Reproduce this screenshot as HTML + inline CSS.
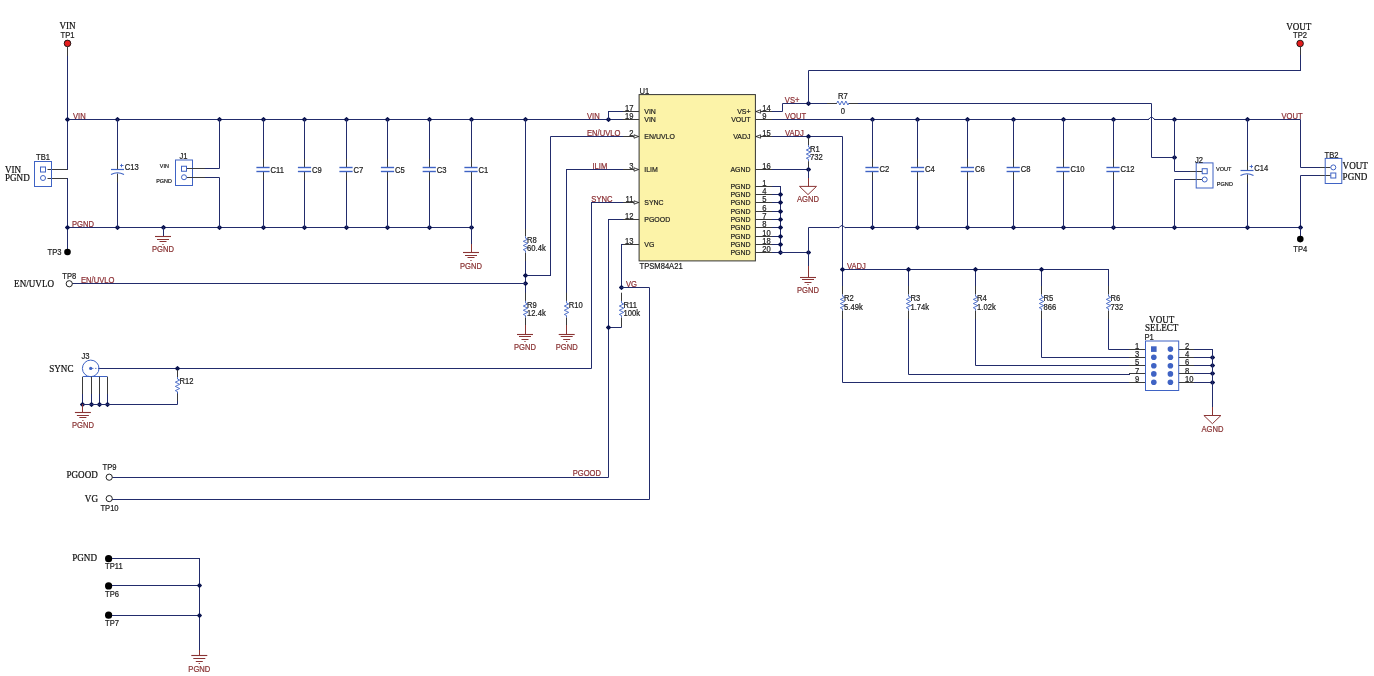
<!DOCTYPE html>
<html><head><meta charset="utf-8"><style>
html,body{margin:0;padding:0;background:#fff;}
body{width:1374px;height:676px;overflow:hidden;}
svg{display:block;will-change:transform;}

</style></head><body>
<svg width="1374" height="676" viewBox="0 0 1374 676">
<rect width="1374" height="676" fill="#fff"/>
<circle cx="67.5" cy="43.4" r="3.3" fill="#e41c1c" stroke="#111" stroke-width="0.9"/>
<text transform="matrix(0.9 0 0 1 67.5 28.84)" font-size="10.12" fill="#111" stroke="#111" stroke-width="0.22" text-anchor="middle" style="font-family:'Liberation Serif',serif">VIN</text>
<text transform="matrix(0.9 0 0 1 67.5 37.97)" font-size="8.47" fill="#1e1e1e" stroke="#1e1e1e" stroke-width="0.22" text-anchor="middle" style="font-family:'Liberation Sans',sans-serif">TP1</text>
<line x1="67.5" y1="46.5" x2="67.5" y2="56" stroke="#3a3a3a" stroke-width="1"/>
<path d="M67.5 56.5 L67.5 169.5" stroke="#222c6c" stroke-width="1" fill="none" stroke-linecap="square"/>
<line x1="47.5" y1="169.5" x2="67.5" y2="169.5" stroke="#3a3a3a" stroke-width="1"/>
<line x1="47.5" y1="178.5" x2="67.5" y2="178.5" stroke="#3a3a3a" stroke-width="1"/>
<path d="M67.5 178.5 L67.5 252.5" stroke="#222c6c" stroke-width="1" fill="none" stroke-linecap="square"/>
<circle cx="67.5" cy="252" r="3.3" fill="#000"/>
<text transform="matrix(0.9 0 0 1 61.5 254.97)" font-size="8.47" fill="#1e1e1e" stroke="#1e1e1e" stroke-width="0.22" text-anchor="end" style="font-family:'Liberation Sans',sans-serif">TP3</text>
<rect x="34.5" y="161.5" width="17" height="25" fill="none" stroke="#3f63c4" stroke-width="1"/>
<rect x="40.5" y="167" width="5" height="5" fill="none" stroke="#3f63c4" stroke-width="1"/>
<circle cx="43" cy="178" r="2.5" fill="none" stroke="#3f63c4" stroke-width="1"/>
<text transform="matrix(0.9 0 0 1 43 159.97)" font-size="8.47" fill="#1e1e1e" stroke="#1e1e1e" stroke-width="0.22" text-anchor="middle" style="font-family:'Liberation Sans',sans-serif">TB1</text>
<text transform="matrix(0.9 0 0 1 5 172.84)" font-size="10.12" fill="#111" stroke="#111" stroke-width="0.22" text-anchor="start" style="font-family:'Liberation Serif',serif">VIN</text>
<text transform="matrix(0.9 0 0 1 5 181.34)" font-size="10.12" fill="#111" stroke="#111" stroke-width="0.22" text-anchor="start" style="font-family:'Liberation Serif',serif">PGND</text>
<path d="M67.5 119.5 L622.5 119.5" stroke="#222c6c" stroke-width="1" fill="none" stroke-linecap="square"/>
<text transform="matrix(0.9 0 0 1 73 118.97)" font-size="8.47" fill="#8c2f34" stroke="#8c2f34" stroke-width="0.22" text-anchor="start" style="font-family:'Liberation Sans',sans-serif">VIN</text>
<path d="M65.6 119.5 L67.5 117.6 L69.4 119.5 L67.5 121.4 Z" fill="#0b1450" stroke="#0b1450" stroke-width="1.2" stroke-linejoin="round"/>
<path d="M115.6 119.5 L117.5 117.6 L119.4 119.5 L117.5 121.4 Z" fill="#0b1450" stroke="#0b1450" stroke-width="1.2" stroke-linejoin="round"/>
<path d="M217.6 119.5 L219.5 117.6 L221.4 119.5 L219.5 121.4 Z" fill="#0b1450" stroke="#0b1450" stroke-width="1.2" stroke-linejoin="round"/>
<path d="M261.6 119.5 L263.5 117.6 L265.4 119.5 L263.5 121.4 Z" fill="#0b1450" stroke="#0b1450" stroke-width="1.2" stroke-linejoin="round"/>
<path d="M302.6 119.5 L304.5 117.6 L306.4 119.5 L304.5 121.4 Z" fill="#0b1450" stroke="#0b1450" stroke-width="1.2" stroke-linejoin="round"/>
<path d="M344.6 119.5 L346.5 117.6 L348.4 119.5 L346.5 121.4 Z" fill="#0b1450" stroke="#0b1450" stroke-width="1.2" stroke-linejoin="round"/>
<path d="M385.6 119.5 L387.5 117.6 L389.4 119.5 L387.5 121.4 Z" fill="#0b1450" stroke="#0b1450" stroke-width="1.2" stroke-linejoin="round"/>
<path d="M427.6 119.5 L429.5 117.6 L431.4 119.5 L429.5 121.4 Z" fill="#0b1450" stroke="#0b1450" stroke-width="1.2" stroke-linejoin="round"/>
<path d="M469.6 119.5 L471.5 117.6 L473.4 119.5 L471.5 121.4 Z" fill="#0b1450" stroke="#0b1450" stroke-width="1.2" stroke-linejoin="round"/>
<path d="M523.6 119.5 L525.5 117.6 L527.4 119.5 L525.5 121.4 Z" fill="#0b1450" stroke="#0b1450" stroke-width="1.2" stroke-linejoin="round"/>
<path d="M606.6 119.5 L608.5 117.6 L610.4 119.5 L608.5 121.4 Z" fill="#0b1450" stroke="#0b1450" stroke-width="1.2" stroke-linejoin="round"/>
<path d="M67.5 227.5 L471.5 227.5" stroke="#222c6c" stroke-width="1" fill="none" stroke-linecap="square"/>
<text transform="matrix(0.9 0 0 1 72 226.97)" font-size="8.47" fill="#8c2f34" stroke="#8c2f34" stroke-width="0.22" text-anchor="start" style="font-family:'Liberation Sans',sans-serif">PGND</text>
<path d="M65.6 227.5 L67.5 225.6 L69.4 227.5 L67.5 229.4 Z" fill="#0b1450" stroke="#0b1450" stroke-width="1.2" stroke-linejoin="round"/>
<path d="M115.6 227.5 L117.5 225.6 L119.4 227.5 L117.5 229.4 Z" fill="#0b1450" stroke="#0b1450" stroke-width="1.2" stroke-linejoin="round"/>
<path d="M161.6 227.5 L163.5 225.6 L165.4 227.5 L163.5 229.4 Z" fill="#0b1450" stroke="#0b1450" stroke-width="1.2" stroke-linejoin="round"/>
<path d="M217.6 227.5 L219.5 225.6 L221.4 227.5 L219.5 229.4 Z" fill="#0b1450" stroke="#0b1450" stroke-width="1.2" stroke-linejoin="round"/>
<path d="M261.6 227.5 L263.5 225.6 L265.4 227.5 L263.5 229.4 Z" fill="#0b1450" stroke="#0b1450" stroke-width="1.2" stroke-linejoin="round"/>
<path d="M302.6 227.5 L304.5 225.6 L306.4 227.5 L304.5 229.4 Z" fill="#0b1450" stroke="#0b1450" stroke-width="1.2" stroke-linejoin="round"/>
<path d="M344.6 227.5 L346.5 225.6 L348.4 227.5 L346.5 229.4 Z" fill="#0b1450" stroke="#0b1450" stroke-width="1.2" stroke-linejoin="round"/>
<path d="M385.6 227.5 L387.5 225.6 L389.4 227.5 L387.5 229.4 Z" fill="#0b1450" stroke="#0b1450" stroke-width="1.2" stroke-linejoin="round"/>
<path d="M427.6 227.5 L429.5 225.6 L431.4 227.5 L429.5 229.4 Z" fill="#0b1450" stroke="#0b1450" stroke-width="1.2" stroke-linejoin="round"/>
<path d="M469.6 227.5 L471.5 225.6 L473.4 227.5 L471.5 229.4 Z" fill="#0b1450" stroke="#0b1450" stroke-width="1.2" stroke-linejoin="round"/>
<path d="M117.5 119.5 L117.5 160.5" stroke="#222c6c" stroke-width="1" fill="none" stroke-linecap="square"/>
<path d="M117.5 182.5 L117.5 227.5" stroke="#222c6c" stroke-width="1" fill="none" stroke-linecap="square"/>
<line x1="117.5" y1="160.5" x2="117.5" y2="169.5" stroke="#3a3a3a" stroke-width="1"/>
<line x1="117.5" y1="173.5" x2="117.5" y2="182.5" stroke="#3a3a3a" stroke-width="1"/>
<line x1="111" y1="169.5" x2="124" y2="169.5" stroke="#3f63c4" stroke-width="1.2"/>
<path d="M111 174.5 Q117.5 171.1 124 174.5" stroke="#3f63c4" stroke-width="1.1" fill="none"/>
<line x1="120.1" y1="165.5" x2="123.5" y2="165.5" stroke="#3f63c4" stroke-width="0.9"/>
<line x1="121.5" y1="163.9" x2="121.5" y2="167.3" stroke="#3f63c4" stroke-width="0.9"/>
<text transform="matrix(0.9 0 0 1 124.7 170.47)" font-size="8.47" fill="#1e1e1e" stroke="#1e1e1e" stroke-width="0.22" text-anchor="start" style="font-family:'Liberation Sans',sans-serif">C13</text>
<rect x="175.5" y="160" width="17" height="25.5" fill="none" stroke="#3f63c4" stroke-width="1"/>
<rect x="181.5" y="166.25" width="5" height="5" fill="none" stroke="#3f63c4" stroke-width="1"/>
<circle cx="184" cy="177.25" r="2.5" fill="none" stroke="#3f63c4" stroke-width="1"/>
<text transform="matrix(0.9 0 0 1 183.5 158.97)" font-size="8.47" fill="#1e1e1e" stroke="#1e1e1e" stroke-width="0.22" text-anchor="middle" style="font-family:'Liberation Sans',sans-serif">J1</text>
<text transform="matrix(0.9 0 0 1 164.3 167.9)" font-size="5.99" fill="#1e1e1e" stroke="#1e1e1e" stroke-width="0.22" text-anchor="middle" style="font-family:'Liberation Sans',sans-serif">VIN</text>
<text transform="matrix(0.9 0 0 1 164 182.9)" font-size="5.99" fill="#1e1e1e" stroke="#1e1e1e" stroke-width="0.22" text-anchor="middle" style="font-family:'Liberation Sans',sans-serif">PGND</text>
<line x1="187" y1="168.5" x2="205" y2="168.5" stroke="#3a3a3a" stroke-width="1"/>
<line x1="187" y1="177.5" x2="205" y2="177.5" stroke="#3a3a3a" stroke-width="1"/>
<path d="M205.5 168.5 L219.5 168.5 L219.5 119.5" stroke="#222c6c" stroke-width="1" fill="none" stroke-linecap="square"/>
<path d="M205.5 177.5 L219.5 177.5 L219.5 227.5" stroke="#222c6c" stroke-width="1" fill="none" stroke-linecap="square"/>
<path d="M163.5 227.5 L163.5 236.5" stroke="#222c6c" stroke-width="1" fill="none" stroke-linecap="square"/>
<line x1="155" y1="236.5" x2="171" y2="236.5" stroke="#8a3434" stroke-width="1.1"/>
<line x1="157" y1="239.5" x2="169" y2="239.5" stroke="#8a3434" stroke-width="1"/>
<line x1="159.5" y1="241.5" x2="166.5" y2="241.5" stroke="#8a3434" stroke-width="1"/>
<line x1="162.4" y1="244.5" x2="163.6" y2="244.5" stroke="#8a3434" stroke-width="1"/>
<text transform="matrix(0.9 0 0 1 163 251.97)" font-size="8.47" fill="#8a3434" stroke="#8a3434" stroke-width="0.22" text-anchor="middle" style="font-family:'Liberation Sans',sans-serif">PGND</text>
<path d="M263.5 119.5 L263.5 158.5" stroke="#222c6c" stroke-width="1" fill="none" stroke-linecap="square"/>
<path d="M263.5 180.5 L263.5 227.5" stroke="#222c6c" stroke-width="1" fill="none" stroke-linecap="square"/>
<line x1="263.5" y1="158.9" x2="263.5" y2="167.9" stroke="#3a3a3a" stroke-width="1"/>
<line x1="263.5" y1="171.4" x2="263.5" y2="180.4" stroke="#3a3a3a" stroke-width="1"/>
<line x1="256.4" y1="167.5" x2="269.6" y2="167.5" stroke="#3f63c4" stroke-width="1.4"/>
<line x1="256.4" y1="171.5" x2="269.6" y2="171.5" stroke="#3f63c4" stroke-width="1.4"/>
<text transform="matrix(0.9 0 0 1 270.5 172.62)" font-size="8.47" fill="#1e1e1e" stroke="#1e1e1e" stroke-width="0.22" text-anchor="start" style="font-family:'Liberation Sans',sans-serif">C11</text>
<path d="M304.5 119.5 L304.5 158.5" stroke="#222c6c" stroke-width="1" fill="none" stroke-linecap="square"/>
<path d="M304.5 180.5 L304.5 227.5" stroke="#222c6c" stroke-width="1" fill="none" stroke-linecap="square"/>
<line x1="304.5" y1="158.9" x2="304.5" y2="167.9" stroke="#3a3a3a" stroke-width="1"/>
<line x1="304.5" y1="171.4" x2="304.5" y2="180.4" stroke="#3a3a3a" stroke-width="1"/>
<line x1="297.9" y1="167.5" x2="311.1" y2="167.5" stroke="#3f63c4" stroke-width="1.4"/>
<line x1="297.9" y1="171.5" x2="311.1" y2="171.5" stroke="#3f63c4" stroke-width="1.4"/>
<text transform="matrix(0.9 0 0 1 312 172.62)" font-size="8.47" fill="#1e1e1e" stroke="#1e1e1e" stroke-width="0.22" text-anchor="start" style="font-family:'Liberation Sans',sans-serif">C9</text>
<path d="M346.5 119.5 L346.5 158.5" stroke="#222c6c" stroke-width="1" fill="none" stroke-linecap="square"/>
<path d="M346.5 180.5 L346.5 227.5" stroke="#222c6c" stroke-width="1" fill="none" stroke-linecap="square"/>
<line x1="346.5" y1="158.9" x2="346.5" y2="167.9" stroke="#3a3a3a" stroke-width="1"/>
<line x1="346.5" y1="171.4" x2="346.5" y2="180.4" stroke="#3a3a3a" stroke-width="1"/>
<line x1="339.4" y1="167.5" x2="352.6" y2="167.5" stroke="#3f63c4" stroke-width="1.4"/>
<line x1="339.4" y1="171.5" x2="352.6" y2="171.5" stroke="#3f63c4" stroke-width="1.4"/>
<text transform="matrix(0.9 0 0 1 353.5 172.62)" font-size="8.47" fill="#1e1e1e" stroke="#1e1e1e" stroke-width="0.22" text-anchor="start" style="font-family:'Liberation Sans',sans-serif">C7</text>
<path d="M387.5 119.5 L387.5 158.5" stroke="#222c6c" stroke-width="1" fill="none" stroke-linecap="square"/>
<path d="M387.5 180.5 L387.5 227.5" stroke="#222c6c" stroke-width="1" fill="none" stroke-linecap="square"/>
<line x1="387.5" y1="158.9" x2="387.5" y2="167.9" stroke="#3a3a3a" stroke-width="1"/>
<line x1="387.5" y1="171.4" x2="387.5" y2="180.4" stroke="#3a3a3a" stroke-width="1"/>
<line x1="380.9" y1="167.5" x2="394.1" y2="167.5" stroke="#3f63c4" stroke-width="1.4"/>
<line x1="380.9" y1="171.5" x2="394.1" y2="171.5" stroke="#3f63c4" stroke-width="1.4"/>
<text transform="matrix(0.9 0 0 1 395 172.62)" font-size="8.47" fill="#1e1e1e" stroke="#1e1e1e" stroke-width="0.22" text-anchor="start" style="font-family:'Liberation Sans',sans-serif">C5</text>
<path d="M429.5 119.5 L429.5 158.5" stroke="#222c6c" stroke-width="1" fill="none" stroke-linecap="square"/>
<path d="M429.5 180.5 L429.5 227.5" stroke="#222c6c" stroke-width="1" fill="none" stroke-linecap="square"/>
<line x1="429.5" y1="158.9" x2="429.5" y2="167.9" stroke="#3a3a3a" stroke-width="1"/>
<line x1="429.5" y1="171.4" x2="429.5" y2="180.4" stroke="#3a3a3a" stroke-width="1"/>
<line x1="422.65" y1="167.5" x2="435.85" y2="167.5" stroke="#3f63c4" stroke-width="1.4"/>
<line x1="422.65" y1="171.5" x2="435.85" y2="171.5" stroke="#3f63c4" stroke-width="1.4"/>
<text transform="matrix(0.9 0 0 1 436.75 172.62)" font-size="8.47" fill="#1e1e1e" stroke="#1e1e1e" stroke-width="0.22" text-anchor="start" style="font-family:'Liberation Sans',sans-serif">C3</text>
<path d="M471.5 119.5 L471.5 158.5" stroke="#222c6c" stroke-width="1" fill="none" stroke-linecap="square"/>
<path d="M471.5 180.5 L471.5 227.5" stroke="#222c6c" stroke-width="1" fill="none" stroke-linecap="square"/>
<line x1="471.5" y1="158.9" x2="471.5" y2="167.9" stroke="#3a3a3a" stroke-width="1"/>
<line x1="471.5" y1="171.4" x2="471.5" y2="180.4" stroke="#3a3a3a" stroke-width="1"/>
<line x1="464.4" y1="167.5" x2="477.6" y2="167.5" stroke="#3f63c4" stroke-width="1.4"/>
<line x1="464.4" y1="171.5" x2="477.6" y2="171.5" stroke="#3f63c4" stroke-width="1.4"/>
<text transform="matrix(0.9 0 0 1 478.5 172.62)" font-size="8.47" fill="#1e1e1e" stroke="#1e1e1e" stroke-width="0.22" text-anchor="start" style="font-family:'Liberation Sans',sans-serif">C1</text>
<path d="M471.5 227.5 L471.5 244.5" stroke="#222c6c" stroke-width="1" fill="none" stroke-linecap="square"/>
<line x1="471.5" y1="244" x2="471.5" y2="252.5" stroke="#8a3434" stroke-width="1"/>
<line x1="463" y1="252.5" x2="479" y2="252.5" stroke="#8a3434" stroke-width="1.1"/>
<line x1="465" y1="255.5" x2="477" y2="255.5" stroke="#8a3434" stroke-width="1"/>
<line x1="467.5" y1="257.5" x2="474.5" y2="257.5" stroke="#8a3434" stroke-width="1"/>
<line x1="470.4" y1="260.5" x2="471.6" y2="260.5" stroke="#8a3434" stroke-width="1"/>
<text transform="matrix(0.9 0 0 1 471 268.97)" font-size="8.47" fill="#8a3434" stroke="#8a3434" stroke-width="0.22" text-anchor="middle" style="font-family:'Liberation Sans',sans-serif">PGND</text>
<rect x="639.1" y="94.6" width="116.3" height="166.3" fill="#fcf3a8" stroke="#333" stroke-width="1"/>
<text transform="matrix(0.9 0 0 1 639.5 93.77)" font-size="8.47" fill="#1e1e1e" stroke="#1e1e1e" stroke-width="0.22" text-anchor="start" style="font-family:'Liberation Sans',sans-serif">U1</text>
<text transform="matrix(0.9 0 0 1 639.5 268.97)" font-size="8.47" fill="#1e1e1e" stroke="#1e1e1e" stroke-width="0.22" text-anchor="start" style="font-family:'Liberation Sans',sans-serif">TPSM84A21</text>
<line x1="622.5" y1="111.5" x2="639.1" y2="111.5" stroke="#3a3a3a" stroke-width="1"/>
<text transform="matrix(0.9 0 0 1 633.5 110.87)" font-size="8.47" fill="#1e1e1e" stroke="#1e1e1e" stroke-width="0.22" text-anchor="end" style="font-family:'Liberation Sans',sans-serif">17</text>
<text transform="matrix(0.88 0 0 1 644.3 113.87)" font-size="7.91" fill="#1e1e1e" stroke="#1e1e1e" stroke-width="0.22" text-anchor="start" style="font-family:'Liberation Sans',sans-serif">VIN</text>
<line x1="622.5" y1="119.5" x2="639.1" y2="119.5" stroke="#3a3a3a" stroke-width="1"/>
<text transform="matrix(0.9 0 0 1 633.5 118.97)" font-size="8.47" fill="#1e1e1e" stroke="#1e1e1e" stroke-width="0.22" text-anchor="end" style="font-family:'Liberation Sans',sans-serif">19</text>
<text transform="matrix(0.88 0 0 1 644.3 121.97)" font-size="7.91" fill="#1e1e1e" stroke="#1e1e1e" stroke-width="0.22" text-anchor="start" style="font-family:'Liberation Sans',sans-serif">VIN</text>
<line x1="622.5" y1="136.5" x2="639.1" y2="136.5" stroke="#3a3a3a" stroke-width="1"/>
<text transform="matrix(0.9 0 0 1 633.5 135.57)" font-size="8.47" fill="#1e1e1e" stroke="#1e1e1e" stroke-width="0.22" text-anchor="end" style="font-family:'Liberation Sans',sans-serif">2</text>
<text transform="matrix(0.88 0 0 1 644.3 138.57)" font-size="7.91" fill="#1e1e1e" stroke="#1e1e1e" stroke-width="0.22" text-anchor="start" style="font-family:'Liberation Sans',sans-serif">EN/UVLO</text>
<path d="M634 134.8 L638.6 136.5 L634 138.2 Z" fill="#fff" stroke="#222" stroke-width="0.85"/>
<line x1="622.5" y1="169.5" x2="639.1" y2="169.5" stroke="#3a3a3a" stroke-width="1"/>
<text transform="matrix(0.9 0 0 1 633.5 168.87)" font-size="8.47" fill="#1e1e1e" stroke="#1e1e1e" stroke-width="0.22" text-anchor="end" style="font-family:'Liberation Sans',sans-serif">3</text>
<text transform="matrix(0.88 0 0 1 644.3 171.87)" font-size="7.91" fill="#1e1e1e" stroke="#1e1e1e" stroke-width="0.22" text-anchor="start" style="font-family:'Liberation Sans',sans-serif">ILIM</text>
<path d="M634 167.8 L638.6 169.5 L634 171.2 Z" fill="#fff" stroke="#222" stroke-width="0.85"/>
<line x1="622.5" y1="202.5" x2="639.1" y2="202.5" stroke="#3a3a3a" stroke-width="1"/>
<text transform="matrix(0.9 0 0 1 633.5 202.17)" font-size="8.47" fill="#1e1e1e" stroke="#1e1e1e" stroke-width="0.22" text-anchor="end" style="font-family:'Liberation Sans',sans-serif">11</text>
<text transform="matrix(0.88 0 0 1 644.3 205.17)" font-size="7.91" fill="#1e1e1e" stroke="#1e1e1e" stroke-width="0.22" text-anchor="start" style="font-family:'Liberation Sans',sans-serif">SYNC</text>
<path d="M634 200.8 L638.6 202.5 L634 204.2 Z" fill="#fff" stroke="#222" stroke-width="0.85"/>
<line x1="622.5" y1="219.5" x2="639.1" y2="219.5" stroke="#3a3a3a" stroke-width="1"/>
<text transform="matrix(0.9 0 0 1 633.5 218.77)" font-size="8.47" fill="#1e1e1e" stroke="#1e1e1e" stroke-width="0.22" text-anchor="end" style="font-family:'Liberation Sans',sans-serif">12</text>
<text transform="matrix(0.88 0 0 1 644.3 221.77)" font-size="7.91" fill="#1e1e1e" stroke="#1e1e1e" stroke-width="0.22" text-anchor="start" style="font-family:'Liberation Sans',sans-serif">PGOOD</text>
<line x1="622.5" y1="244.5" x2="639.1" y2="244.5" stroke="#3a3a3a" stroke-width="1"/>
<text transform="matrix(0.9 0 0 1 633.5 243.87)" font-size="8.47" fill="#1e1e1e" stroke="#1e1e1e" stroke-width="0.22" text-anchor="end" style="font-family:'Liberation Sans',sans-serif">13</text>
<text transform="matrix(0.88 0 0 1 644.3 246.87)" font-size="7.91" fill="#1e1e1e" stroke="#1e1e1e" stroke-width="0.22" text-anchor="start" style="font-family:'Liberation Sans',sans-serif">VG</text>
<line x1="755.4" y1="111.5" x2="772" y2="111.5" stroke="#3a3a3a" stroke-width="1"/>
<text transform="matrix(0.9 0 0 1 762.3 110.87)" font-size="8.47" fill="#1e1e1e" stroke="#1e1e1e" stroke-width="0.22" text-anchor="start" style="font-family:'Liberation Sans',sans-serif">14</text>
<text transform="matrix(0.88 0 0 1 750.5 113.87)" font-size="7.91" fill="#1e1e1e" stroke="#1e1e1e" stroke-width="0.22" text-anchor="end" style="font-family:'Liberation Sans',sans-serif">VS+</text>
<path d="M760.6 109.8 L756 111.5 L760.6 113.2 Z" fill="#fff" stroke="#222" stroke-width="0.85"/>
<line x1="755.4" y1="119.5" x2="772" y2="119.5" stroke="#3a3a3a" stroke-width="1"/>
<text transform="matrix(0.9 0 0 1 762.3 118.97)" font-size="8.47" fill="#1e1e1e" stroke="#1e1e1e" stroke-width="0.22" text-anchor="start" style="font-family:'Liberation Sans',sans-serif">9</text>
<text transform="matrix(0.88 0 0 1 750.5 121.97)" font-size="7.91" fill="#1e1e1e" stroke="#1e1e1e" stroke-width="0.22" text-anchor="end" style="font-family:'Liberation Sans',sans-serif">VOUT</text>
<line x1="755.4" y1="136.5" x2="772" y2="136.5" stroke="#3a3a3a" stroke-width="1"/>
<text transform="matrix(0.9 0 0 1 762.3 135.57)" font-size="8.47" fill="#1e1e1e" stroke="#1e1e1e" stroke-width="0.22" text-anchor="start" style="font-family:'Liberation Sans',sans-serif">15</text>
<text transform="matrix(0.88 0 0 1 750.5 138.57)" font-size="7.91" fill="#1e1e1e" stroke="#1e1e1e" stroke-width="0.22" text-anchor="end" style="font-family:'Liberation Sans',sans-serif">VADJ</text>
<path d="M760.6 134.8 L756 136.5 L760.6 138.2 Z" fill="#fff" stroke="#222" stroke-width="0.85"/>
<line x1="755.4" y1="169.5" x2="772" y2="169.5" stroke="#3a3a3a" stroke-width="1"/>
<text transform="matrix(0.9 0 0 1 762.3 168.87)" font-size="8.47" fill="#1e1e1e" stroke="#1e1e1e" stroke-width="0.22" text-anchor="start" style="font-family:'Liberation Sans',sans-serif">16</text>
<text transform="matrix(0.88 0 0 1 750.5 171.87)" font-size="7.91" fill="#1e1e1e" stroke="#1e1e1e" stroke-width="0.22" text-anchor="end" style="font-family:'Liberation Sans',sans-serif">AGND</text>
<line x1="755.4" y1="186.5" x2="772" y2="186.5" stroke="#3a3a3a" stroke-width="1"/>
<path d="M772.5 186.5 L780.5 186.5" stroke="#222c6c" stroke-width="1" fill="none" stroke-linecap="square"/>
<text transform="matrix(0.9 0 0 1 762.3 185.87)" font-size="8.47" fill="#1e1e1e" stroke="#1e1e1e" stroke-width="0.22" text-anchor="start" style="font-family:'Liberation Sans',sans-serif">1</text>
<text transform="matrix(0.88 0 0 1 750.5 188.87)" font-size="7.91" fill="#1e1e1e" stroke="#1e1e1e" stroke-width="0.22" text-anchor="end" style="font-family:'Liberation Sans',sans-serif">PGND</text>
<line x1="755.4" y1="194.5" x2="772" y2="194.5" stroke="#3a3a3a" stroke-width="1"/>
<path d="M772.5 194.5 L780.5 194.5" stroke="#222c6c" stroke-width="1" fill="none" stroke-linecap="square"/>
<text transform="matrix(0.9 0 0 1 762.3 194.17)" font-size="8.47" fill="#1e1e1e" stroke="#1e1e1e" stroke-width="0.22" text-anchor="start" style="font-family:'Liberation Sans',sans-serif">4</text>
<text transform="matrix(0.88 0 0 1 750.5 197.17)" font-size="7.91" fill="#1e1e1e" stroke="#1e1e1e" stroke-width="0.22" text-anchor="end" style="font-family:'Liberation Sans',sans-serif">PGND</text>
<line x1="755.4" y1="202.5" x2="772" y2="202.5" stroke="#3a3a3a" stroke-width="1"/>
<path d="M772.5 202.5 L780.5 202.5" stroke="#222c6c" stroke-width="1" fill="none" stroke-linecap="square"/>
<text transform="matrix(0.9 0 0 1 762.3 202.47)" font-size="8.47" fill="#1e1e1e" stroke="#1e1e1e" stroke-width="0.22" text-anchor="start" style="font-family:'Liberation Sans',sans-serif">5</text>
<text transform="matrix(0.88 0 0 1 750.5 205.47)" font-size="7.91" fill="#1e1e1e" stroke="#1e1e1e" stroke-width="0.22" text-anchor="end" style="font-family:'Liberation Sans',sans-serif">PGND</text>
<line x1="755.4" y1="211.5" x2="772" y2="211.5" stroke="#3a3a3a" stroke-width="1"/>
<path d="M772.5 211.5 L780.5 211.5" stroke="#222c6c" stroke-width="1" fill="none" stroke-linecap="square"/>
<text transform="matrix(0.9 0 0 1 762.3 210.77)" font-size="8.47" fill="#1e1e1e" stroke="#1e1e1e" stroke-width="0.22" text-anchor="start" style="font-family:'Liberation Sans',sans-serif">6</text>
<text transform="matrix(0.88 0 0 1 750.5 213.77)" font-size="7.91" fill="#1e1e1e" stroke="#1e1e1e" stroke-width="0.22" text-anchor="end" style="font-family:'Liberation Sans',sans-serif">PGND</text>
<line x1="755.4" y1="219.5" x2="772" y2="219.5" stroke="#3a3a3a" stroke-width="1"/>
<path d="M772.5 219.5 L780.5 219.5" stroke="#222c6c" stroke-width="1" fill="none" stroke-linecap="square"/>
<text transform="matrix(0.9 0 0 1 762.3 219.07)" font-size="8.47" fill="#1e1e1e" stroke="#1e1e1e" stroke-width="0.22" text-anchor="start" style="font-family:'Liberation Sans',sans-serif">7</text>
<text transform="matrix(0.88 0 0 1 750.5 222.07)" font-size="7.91" fill="#1e1e1e" stroke="#1e1e1e" stroke-width="0.22" text-anchor="end" style="font-family:'Liberation Sans',sans-serif">PGND</text>
<line x1="755.4" y1="227.5" x2="772" y2="227.5" stroke="#3a3a3a" stroke-width="1"/>
<path d="M772.5 227.5 L780.5 227.5" stroke="#222c6c" stroke-width="1" fill="none" stroke-linecap="square"/>
<text transform="matrix(0.9 0 0 1 762.3 227.37)" font-size="8.47" fill="#1e1e1e" stroke="#1e1e1e" stroke-width="0.22" text-anchor="start" style="font-family:'Liberation Sans',sans-serif">8</text>
<text transform="matrix(0.88 0 0 1 750.5 230.37)" font-size="7.91" fill="#1e1e1e" stroke="#1e1e1e" stroke-width="0.22" text-anchor="end" style="font-family:'Liberation Sans',sans-serif">PGND</text>
<line x1="755.4" y1="236.5" x2="772" y2="236.5" stroke="#3a3a3a" stroke-width="1"/>
<path d="M772.5 236.5 L780.5 236.5" stroke="#222c6c" stroke-width="1" fill="none" stroke-linecap="square"/>
<text transform="matrix(0.9 0 0 1 762.3 235.67)" font-size="8.47" fill="#1e1e1e" stroke="#1e1e1e" stroke-width="0.22" text-anchor="start" style="font-family:'Liberation Sans',sans-serif">10</text>
<text transform="matrix(0.88 0 0 1 750.5 238.67)" font-size="7.91" fill="#1e1e1e" stroke="#1e1e1e" stroke-width="0.22" text-anchor="end" style="font-family:'Liberation Sans',sans-serif">PGND</text>
<line x1="755.4" y1="244.5" x2="772" y2="244.5" stroke="#3a3a3a" stroke-width="1"/>
<path d="M772.5 244.5 L780.5 244.5" stroke="#222c6c" stroke-width="1" fill="none" stroke-linecap="square"/>
<text transform="matrix(0.9 0 0 1 762.3 243.97)" font-size="8.47" fill="#1e1e1e" stroke="#1e1e1e" stroke-width="0.22" text-anchor="start" style="font-family:'Liberation Sans',sans-serif">18</text>
<text transform="matrix(0.88 0 0 1 750.5 246.97)" font-size="7.91" fill="#1e1e1e" stroke="#1e1e1e" stroke-width="0.22" text-anchor="end" style="font-family:'Liberation Sans',sans-serif">PGND</text>
<line x1="755.4" y1="252.5" x2="772" y2="252.5" stroke="#3a3a3a" stroke-width="1"/>
<path d="M772.5 252.5 L780.5 252.5" stroke="#222c6c" stroke-width="1" fill="none" stroke-linecap="square"/>
<text transform="matrix(0.9 0 0 1 762.3 252.27)" font-size="8.47" fill="#1e1e1e" stroke="#1e1e1e" stroke-width="0.22" text-anchor="start" style="font-family:'Liberation Sans',sans-serif">20</text>
<text transform="matrix(0.88 0 0 1 750.5 255.27)" font-size="7.91" fill="#1e1e1e" stroke="#1e1e1e" stroke-width="0.22" text-anchor="end" style="font-family:'Liberation Sans',sans-serif">PGND</text>
<path d="M780.5 186.5 L780.5 252.5" stroke="#222c6c" stroke-width="1" fill="none" stroke-linecap="square"/>
<path d="M778.6 194.5 L780.5 192.6 L782.4 194.5 L780.5 196.4 Z" fill="#0b1450" stroke="#0b1450" stroke-width="1.2" stroke-linejoin="round"/>
<path d="M778.6 202.5 L780.5 200.6 L782.4 202.5 L780.5 204.4 Z" fill="#0b1450" stroke="#0b1450" stroke-width="1.2" stroke-linejoin="round"/>
<path d="M778.6 211.5 L780.5 209.6 L782.4 211.5 L780.5 213.4 Z" fill="#0b1450" stroke="#0b1450" stroke-width="1.2" stroke-linejoin="round"/>
<path d="M778.6 219.5 L780.5 217.6 L782.4 219.5 L780.5 221.4 Z" fill="#0b1450" stroke="#0b1450" stroke-width="1.2" stroke-linejoin="round"/>
<path d="M778.6 227.5 L780.5 225.6 L782.4 227.5 L780.5 229.4 Z" fill="#0b1450" stroke="#0b1450" stroke-width="1.2" stroke-linejoin="round"/>
<path d="M778.6 236.5 L780.5 234.6 L782.4 236.5 L780.5 238.4 Z" fill="#0b1450" stroke="#0b1450" stroke-width="1.2" stroke-linejoin="round"/>
<path d="M778.6 244.5 L780.5 242.6 L782.4 244.5 L780.5 246.4 Z" fill="#0b1450" stroke="#0b1450" stroke-width="1.2" stroke-linejoin="round"/>
<path d="M778.6 252.5 L780.5 250.6 L782.4 252.5 L780.5 254.4 Z" fill="#0b1450" stroke="#0b1450" stroke-width="1.2" stroke-linejoin="round"/>
<path d="M550.5 275.5 L525.5 275.5" stroke="#222c6c" stroke-width="1" fill="none" stroke-linecap="square"/>
<path d="M550.5 275.5 L550.5 136.5 L622.5 136.5" stroke="#222c6c" stroke-width="1" fill="none" stroke-linecap="square"/>
<text transform="matrix(0.9 0 0 1 587 135.97)" font-size="8.47" fill="#8c2f34" stroke="#8c2f34" stroke-width="0.22" text-anchor="start" style="font-family:'Liberation Sans',sans-serif">EN/UVLO</text>
<path d="M566.5 169.5 L622.5 169.5" stroke="#222c6c" stroke-width="1" fill="none" stroke-linecap="square"/>
<path d="M566.5 169.5 L566.5 292.5" stroke="#222c6c" stroke-width="1" fill="none" stroke-linecap="square"/>
<text transform="matrix(0.9 0 0 1 592.5 169.27)" font-size="8.47" fill="#8c2f34" stroke="#8c2f34" stroke-width="0.22" text-anchor="start" style="font-family:'Liberation Sans',sans-serif">ILIM</text>
<path d="M591.5 202.5 L622.5 202.5" stroke="#222c6c" stroke-width="1" fill="none" stroke-linecap="square"/>
<path d="M591.5 202.5 L591.5 368.5 L98.5 368.5" stroke="#222c6c" stroke-width="1" fill="none" stroke-linecap="square"/>
<text transform="matrix(0.9 0 0 1 591.3 202.47)" font-size="8.47" fill="#8c2f34" stroke="#8c2f34" stroke-width="0.22" text-anchor="start" style="font-family:'Liberation Sans',sans-serif">SYNC</text>
<path d="M608.5 219.5 L622.5 219.5" stroke="#222c6c" stroke-width="1" fill="none" stroke-linecap="square"/>
<path d="M608.5 219.5 L608.5 477.5 L112.5 477.5" stroke="#222c6c" stroke-width="1" fill="none" stroke-linecap="square"/>
<text transform="matrix(0.9 0 0 1 572.7 476.17)" font-size="8.47" fill="#8c2f34" stroke="#8c2f34" stroke-width="0.22" text-anchor="start" style="font-family:'Liberation Sans',sans-serif">PGOOD</text>
<path d="M608.5 111.5 L622.5 111.5" stroke="#222c6c" stroke-width="1" fill="none" stroke-linecap="square"/>
<path d="M608.5 111.5 L608.5 119.5" stroke="#222c6c" stroke-width="1" fill="none" stroke-linecap="square"/>
<text transform="matrix(0.9 0 0 1 587 118.97)" font-size="8.47" fill="#8c2f34" stroke="#8c2f34" stroke-width="0.22" text-anchor="start" style="font-family:'Liberation Sans',sans-serif">VIN</text>
<path d="M621.5 244.5 L622.5 244.5" stroke="#222c6c" stroke-width="1" fill="none" stroke-linecap="square"/>
<path d="M621.5 244.5 L621.5 287.5" stroke="#222c6c" stroke-width="1" fill="none" stroke-linecap="square"/>
<path d="M619.6 287.5 L621.5 285.6 L623.4 287.5 L621.5 289.4 Z" fill="#0b1450" stroke="#0b1450" stroke-width="1.2" stroke-linejoin="round"/>
<path d="M621.5 287.5 L649.5 287.5 L649.5 499.5 L112.5 499.5" stroke="#222c6c" stroke-width="1" fill="none" stroke-linecap="square"/>
<text transform="matrix(0.9 0 0 1 626 287.17)" font-size="8.47" fill="#8c2f34" stroke="#8c2f34" stroke-width="0.22" text-anchor="start" style="font-family:'Liberation Sans',sans-serif">VG</text>
<path d="M621.5 326.5 L621.5 327.5 L608.5 327.5" stroke="#222c6c" stroke-width="1" fill="none" stroke-linecap="square"/>
<path d="M606.6 327.5 L608.5 325.6 L610.4 327.5 L608.5 329.4 Z" fill="#0b1450" stroke="#0b1450" stroke-width="1.2" stroke-linejoin="round"/>
<path d="M621.5 300.9 L621.5 302.89 L623.7 303.94 L619.3 306.05 L623.7 308.15 L619.3 310.25 L623.7 312.35 L619.3 314.46 L621.5 315.51 L621.5 317.5" stroke="#3f63c4" stroke-width="0.9" fill="none"/>
<line x1="621.5" y1="292.7" x2="621.5" y2="300.9" stroke="#3a3a3a" stroke-width="1"/>
<line x1="621.5" y1="317.5" x2="621.5" y2="326.5" stroke="#3a3a3a" stroke-width="1"/>
<text transform="matrix(0.9 0 0 1 623.6 308.07)" font-size="8.47" fill="#1e1e1e" stroke="#1e1e1e" stroke-width="0.22" text-anchor="start" style="font-family:'Liberation Sans',sans-serif">R11</text>
<text transform="matrix(0.9 0 0 1 623.6 316.17)" font-size="8.47" fill="#1e1e1e" stroke="#1e1e1e" stroke-width="0.22" text-anchor="start" style="font-family:'Liberation Sans',sans-serif">100k</text>
<path d="M525.5 119.5 L525.5 229.5" stroke="#222c6c" stroke-width="1" fill="none" stroke-linecap="square"/>
<path d="M525.5 236.2 L525.5 238.18 L527.7 239.22 L523.3 241.31 L527.7 243.4 L523.3 245.5 L527.7 247.58 L523.3 249.68 L525.5 250.72 L525.5 252.7" stroke="#3f63c4" stroke-width="0.9" fill="none"/>
<line x1="525.5" y1="229" x2="525.5" y2="236.2" stroke="#3a3a3a" stroke-width="1"/>
<line x1="525.5" y1="252.7" x2="525.5" y2="261" stroke="#3a3a3a" stroke-width="1"/>
<text transform="matrix(0.9 0 0 1 527.1 243.27)" font-size="8.47" fill="#1e1e1e" stroke="#1e1e1e" stroke-width="0.22" text-anchor="start" style="font-family:'Liberation Sans',sans-serif">R8</text>
<text transform="matrix(0.9 0 0 1 527.1 251.27)" font-size="8.47" fill="#1e1e1e" stroke="#1e1e1e" stroke-width="0.22" text-anchor="start" style="font-family:'Liberation Sans',sans-serif">60.4k</text>
<path d="M525.5 261.5 L525.5 293.5" stroke="#222c6c" stroke-width="1" fill="none" stroke-linecap="square"/>
<path d="M523.6 275.5 L525.5 273.6 L527.4 275.5 L525.5 277.4 Z" fill="#0b1450" stroke="#0b1450" stroke-width="1.2" stroke-linejoin="round"/>
<path d="M523.6 283.5 L525.5 281.6 L527.4 283.5 L525.5 285.4 Z" fill="#0b1450" stroke="#0b1450" stroke-width="1.2" stroke-linejoin="round"/>
<path d="M72.5 283.5 L525.5 283.5" stroke="#222c6c" stroke-width="1" fill="none" stroke-linecap="square"/>
<path d="M525.5 300.9 L525.5 302.89 L527.7 303.94 L523.3 306.05 L527.7 308.15 L523.3 310.25 L527.7 312.35 L523.3 314.46 L525.5 315.51 L525.5 317.5" stroke="#3f63c4" stroke-width="0.9" fill="none"/>
<line x1="525.5" y1="292.7" x2="525.5" y2="300.9" stroke="#3a3a3a" stroke-width="1"/>
<line x1="525.5" y1="317.5" x2="525.5" y2="325.9" stroke="#3a3a3a" stroke-width="1"/>
<text transform="matrix(0.9 0 0 1 527.1 308.07)" font-size="8.47" fill="#1e1e1e" stroke="#1e1e1e" stroke-width="0.22" text-anchor="start" style="font-family:'Liberation Sans',sans-serif">R9</text>
<text transform="matrix(0.9 0 0 1 527.1 316.17)" font-size="8.47" fill="#1e1e1e" stroke="#1e1e1e" stroke-width="0.22" text-anchor="start" style="font-family:'Liberation Sans',sans-serif">12.4k</text>
<line x1="525.5" y1="325" x2="525.5" y2="334" stroke="#8a3434" stroke-width="1"/>
<line x1="517" y1="334.5" x2="533" y2="334.5" stroke="#8a3434" stroke-width="1.1"/>
<line x1="519" y1="336.5" x2="531" y2="336.5" stroke="#8a3434" stroke-width="1"/>
<line x1="521.5" y1="339.5" x2="528.5" y2="339.5" stroke="#8a3434" stroke-width="1"/>
<line x1="524.4" y1="341.5" x2="525.6" y2="341.5" stroke="#8a3434" stroke-width="1"/>
<text transform="matrix(0.9 0 0 1 525 349.77)" font-size="8.47" fill="#8a3434" stroke="#8a3434" stroke-width="0.22" text-anchor="middle" style="font-family:'Liberation Sans',sans-serif">PGND</text>
<path d="M566.5 300.9 L566.5 302.89 L568.7 303.94 L564.3 306.05 L568.7 308.15 L564.3 310.25 L568.7 312.35 L564.3 314.46 L566.5 315.51 L566.5 317.5" stroke="#3f63c4" stroke-width="0.9" fill="none"/>
<line x1="566.5" y1="292.7" x2="566.5" y2="300.9" stroke="#3a3a3a" stroke-width="1"/>
<line x1="566.5" y1="317.5" x2="566.5" y2="325.9" stroke="#3a3a3a" stroke-width="1"/>
<text transform="matrix(0.9 0 0 1 568.7 308.07)" font-size="8.47" fill="#1e1e1e" stroke="#1e1e1e" stroke-width="0.22" text-anchor="start" style="font-family:'Liberation Sans',sans-serif">R10</text>
<line x1="566.5" y1="325" x2="566.5" y2="334" stroke="#8a3434" stroke-width="1"/>
<line x1="558.7" y1="334.5" x2="574.7" y2="334.5" stroke="#8a3434" stroke-width="1.1"/>
<line x1="560.7" y1="336.5" x2="572.7" y2="336.5" stroke="#8a3434" stroke-width="1"/>
<line x1="563.2" y1="339.5" x2="570.2" y2="339.5" stroke="#8a3434" stroke-width="1"/>
<line x1="566.1" y1="341.5" x2="567.3" y2="341.5" stroke="#8a3434" stroke-width="1"/>
<text transform="matrix(0.9 0 0 1 566.7 349.77)" font-size="8.47" fill="#8a3434" stroke="#8a3434" stroke-width="0.22" text-anchor="middle" style="font-family:'Liberation Sans',sans-serif">PGND</text>
<circle cx="69.25" cy="283.75" r="3.1" fill="#fff" stroke="#222" stroke-width="1"/>
<text transform="matrix(0.9 0 0 1 69.25 278.97)" font-size="8.47" fill="#1e1e1e" stroke="#1e1e1e" stroke-width="0.22" text-anchor="middle" style="font-family:'Liberation Sans',sans-serif">TP8</text>
<text transform="matrix(0.9 0 0 1 54 287.09)" font-size="10.12" fill="#111" stroke="#111" stroke-width="0.22" text-anchor="end" style="font-family:'Liberation Serif',serif">EN/UVLO</text>
<text transform="matrix(0.9 0 0 1 81 282.97)" font-size="8.47" fill="#8c2f34" stroke="#8c2f34" stroke-width="0.22" text-anchor="start" style="font-family:'Liberation Sans',sans-serif">EN/UVLO</text>
<circle cx="90.7" cy="368.4" r="8.3" fill="none" stroke="#3f63c4" stroke-width="1"/>
<circle cx="90.7" cy="368.4" r="1.6" fill="#3f63c4"/>
<line x1="92" y1="368.4" x2="99" y2="368.4" stroke="#3f63c4" stroke-width="0.8" stroke-dasharray="1.5 1.5"/>
<text transform="matrix(0.9 0 0 1 85.4 359.17)" font-size="8.47" fill="#1e1e1e" stroke="#1e1e1e" stroke-width="0.22" text-anchor="middle" style="font-family:'Liberation Sans',sans-serif">J3</text>
<text transform="matrix(0.9 0 0 1 73.5 372.34)" font-size="10.12" fill="#111" stroke="#111" stroke-width="0.22" text-anchor="end" style="font-family:'Liberation Serif',serif">SYNC</text>
<line x1="82.9" y1="376.5" x2="107.3" y2="376.5" stroke="#3f63c4" stroke-width="1"/>
<line x1="82.5" y1="376.7" x2="82.5" y2="394" stroke="#3a3a3a" stroke-width="1"/>
<path d="M82.5 394.5 L82.5 404.5" stroke="#222c6c" stroke-width="1" fill="none" stroke-linecap="square"/>
<path d="M80.6 404.5 L82.5 402.6 L84.4 404.5 L82.5 406.4 Z" fill="#0b1450" stroke="#0b1450" stroke-width="1.2" stroke-linejoin="round"/>
<line x1="91.5" y1="376.7" x2="91.5" y2="394" stroke="#3a3a3a" stroke-width="1"/>
<path d="M91.5 394.5 L91.5 404.5" stroke="#222c6c" stroke-width="1" fill="none" stroke-linecap="square"/>
<path d="M89.6 404.5 L91.5 402.6 L93.4 404.5 L91.5 406.4 Z" fill="#0b1450" stroke="#0b1450" stroke-width="1.2" stroke-linejoin="round"/>
<line x1="99.5" y1="376.7" x2="99.5" y2="394" stroke="#3a3a3a" stroke-width="1"/>
<path d="M99.5 394.5 L99.5 404.5" stroke="#222c6c" stroke-width="1" fill="none" stroke-linecap="square"/>
<path d="M97.6 404.5 L99.5 402.6 L101.4 404.5 L99.5 406.4 Z" fill="#0b1450" stroke="#0b1450" stroke-width="1.2" stroke-linejoin="round"/>
<line x1="107.5" y1="376.7" x2="107.5" y2="394" stroke="#3a3a3a" stroke-width="1"/>
<path d="M107.5 394.5 L107.5 404.5" stroke="#222c6c" stroke-width="1" fill="none" stroke-linecap="square"/>
<path d="M105.6 404.5 L107.5 402.6 L109.4 404.5 L107.5 406.4 Z" fill="#0b1450" stroke="#0b1450" stroke-width="1.2" stroke-linejoin="round"/>
<path d="M82.5 404.5 L177.5 404.5 L177.5 392.5" stroke="#222c6c" stroke-width="1" fill="none" stroke-linecap="square"/>
<path d="M177.5 368.5 L177.5 370.5" stroke="#222c6c" stroke-width="1" fill="none" stroke-linecap="square"/>
<path d="M175.6 368.5 L177.5 366.6 L179.4 368.5 L177.5 370.4 Z" fill="#0b1450" stroke="#0b1450" stroke-width="1.2" stroke-linejoin="round"/>
<path d="M177.5 377 L177.5 379 L179.7 380.06 L175.3 382.18 L179.7 384.29 L175.3 386.41 L179.7 388.52 L175.3 390.64 L177.5 391.7 L177.5 393.7" stroke="#3f63c4" stroke-width="0.9" fill="none"/>
<line x1="177.5" y1="370" x2="177.5" y2="377" stroke="#3a3a3a" stroke-width="1"/>
<line x1="177.5" y1="393.7" x2="177.5" y2="401" stroke="#3a3a3a" stroke-width="1"/>
<text transform="matrix(0.9 0 0 1 179.6 383.57)" font-size="8.47" fill="#1e1e1e" stroke="#1e1e1e" stroke-width="0.22" text-anchor="start" style="font-family:'Liberation Sans',sans-serif">R12</text>
<path d="M82.5 404.5 L82.5 412.5" stroke="#8a3434" stroke-width="1" fill="none" stroke-linecap="square"/>
<line x1="74.9" y1="412.5" x2="90.9" y2="412.5" stroke="#8a3434" stroke-width="1.1"/>
<line x1="76.9" y1="415.5" x2="88.9" y2="415.5" stroke="#8a3434" stroke-width="1"/>
<line x1="79.4" y1="417.5" x2="86.4" y2="417.5" stroke="#8a3434" stroke-width="1"/>
<line x1="82.3" y1="420.5" x2="83.5" y2="420.5" stroke="#8a3434" stroke-width="1"/>
<text transform="matrix(0.9 0 0 1 82.9 428.37)" font-size="8.47" fill="#8a3434" stroke="#8a3434" stroke-width="0.22" text-anchor="middle" style="font-family:'Liberation Sans',sans-serif">PGND</text>
<circle cx="109.2" cy="477.2" r="3.1" fill="#fff" stroke="#222" stroke-width="1"/>
<text transform="matrix(0.9 0 0 1 109.5 469.77)" font-size="8.47" fill="#1e1e1e" stroke="#1e1e1e" stroke-width="0.22" text-anchor="middle" style="font-family:'Liberation Sans',sans-serif">TP9</text>
<text transform="matrix(0.9 0 0 1 97.8 478.04)" font-size="10.12" fill="#111" stroke="#111" stroke-width="0.22" text-anchor="end" style="font-family:'Liberation Serif',serif">PGOOD</text>
<circle cx="109.2" cy="498.6" r="3.1" fill="#fff" stroke="#222" stroke-width="1"/>
<text transform="matrix(0.9 0 0 1 109.5 511.37)" font-size="8.47" fill="#1e1e1e" stroke="#1e1e1e" stroke-width="0.22" text-anchor="middle" style="font-family:'Liberation Sans',sans-serif">TP10</text>
<text transform="matrix(0.9 0 0 1 98 501.94)" font-size="10.12" fill="#111" stroke="#111" stroke-width="0.22" text-anchor="end" style="font-family:'Liberation Serif',serif">VG</text>
<circle cx="108.6" cy="558.7" r="3.6" fill="#000"/>
<text transform="matrix(0.9 0 0 1 105 569.37)" font-size="8.47" fill="#1e1e1e" stroke="#1e1e1e" stroke-width="0.22" text-anchor="start" style="font-family:'Liberation Sans',sans-serif">TP11</text>
<path d="M112.5 558.5 L199.5 558.5" stroke="#222c6c" stroke-width="1" fill="none" stroke-linecap="square"/>
<circle cx="108.6" cy="585.9" r="3.6" fill="#000"/>
<text transform="matrix(0.9 0 0 1 105 596.57)" font-size="8.47" fill="#1e1e1e" stroke="#1e1e1e" stroke-width="0.22" text-anchor="start" style="font-family:'Liberation Sans',sans-serif">TP6</text>
<path d="M112.5 585.5 L199.5 585.5" stroke="#222c6c" stroke-width="1" fill="none" stroke-linecap="square"/>
<circle cx="108.6" cy="615.2" r="3.6" fill="#000"/>
<text transform="matrix(0.9 0 0 1 105 625.87)" font-size="8.47" fill="#1e1e1e" stroke="#1e1e1e" stroke-width="0.22" text-anchor="start" style="font-family:'Liberation Sans',sans-serif">TP7</text>
<path d="M112.5 615.5 L199.5 615.5" stroke="#222c6c" stroke-width="1" fill="none" stroke-linecap="square"/>
<text transform="matrix(0.9 0 0 1 97 561.34)" font-size="10.12" fill="#111" stroke="#111" stroke-width="0.22" text-anchor="end" style="font-family:'Liberation Serif',serif">PGND</text>
<path d="M199.5 558.5 L199.5 650.5" stroke="#222c6c" stroke-width="1" fill="none" stroke-linecap="square"/>
<path d="M197.7 585.5 L199.5 583.7 L201.3 585.5 L199.5 587.3 Z" fill="#0b1450" stroke="#0b1450" stroke-width="1.2" stroke-linejoin="round"/>
<path d="M197.7 615.5 L199.5 613.7 L201.3 615.5 L199.5 617.3 Z" fill="#0b1450" stroke="#0b1450" stroke-width="1.2" stroke-linejoin="round"/>
<line x1="199.5" y1="650" x2="199.5" y2="655.7" stroke="#8a3434" stroke-width="1"/>
<line x1="191.3" y1="655.5" x2="207.3" y2="655.5" stroke="#8a3434" stroke-width="1.1"/>
<line x1="193.3" y1="658.5" x2="205.3" y2="658.5" stroke="#8a3434" stroke-width="1"/>
<line x1="195.8" y1="661.5" x2="202.8" y2="661.5" stroke="#8a3434" stroke-width="1"/>
<line x1="198.7" y1="663.5" x2="199.9" y2="663.5" stroke="#8a3434" stroke-width="1"/>
<text transform="matrix(0.9 0 0 1 199.3 671.57)" font-size="8.47" fill="#8a3434" stroke="#8a3434" stroke-width="0.22" text-anchor="middle" style="font-family:'Liberation Sans',sans-serif">PGND</text>
<path d="M772.5 111.5 L782.5 111.5 L782.5 103.5 L827.5 103.5" stroke="#222c6c" stroke-width="1" fill="none" stroke-linecap="square"/>
<path d="M806.6 103.5 L808.5 101.6 L810.4 103.5 L808.5 105.4 Z" fill="#0b1450" stroke="#0b1450" stroke-width="1.2" stroke-linejoin="round"/>
<path d="M808.5 103.5 L808.5 70.5 L1300.5 70.5" stroke="#222c6c" stroke-width="1" fill="none" stroke-linecap="square"/>
<path d="M1300.5 55.5 L1300.5 70.5" stroke="#222c6c" stroke-width="1" fill="none" stroke-linecap="square"/>
<circle cx="1300.1" cy="43.5" r="3.3" fill="#e41c1c" stroke="#111" stroke-width="0.9"/>
<text transform="matrix(0.9 0 0 1 1300 38.47)" font-size="8.47" fill="#1e1e1e" stroke="#1e1e1e" stroke-width="0.22" text-anchor="middle" style="font-family:'Liberation Sans',sans-serif">TP2</text>
<text transform="matrix(0.9 0 0 1 1298.8 30.14)" font-size="10.12" fill="#111" stroke="#111" stroke-width="0.22" text-anchor="middle" style="font-family:'Liberation Serif',serif">VOUT</text>
<line x1="1300.5" y1="46.5" x2="1300.5" y2="55" stroke="#3a3a3a" stroke-width="1"/>
<text transform="matrix(0.9 0 0 1 784.8 102.57)" font-size="8.47" fill="#8c2f34" stroke="#8c2f34" stroke-width="0.22" text-anchor="start" style="font-family:'Liberation Sans',sans-serif">VS+</text>
<path d="M836.9 103 L837.9 101 L839.9 105 L841.9 101 L843.9 105 L845.9 101 L847.9 105 L848.9 103" stroke="#3f63c4" stroke-width="0.9" fill="none"/>
<line x1="827" y1="103.5" x2="836.9" y2="103.5" stroke="#3a3a3a" stroke-width="1"/>
<line x1="848.9" y1="103.5" x2="858.8" y2="103.5" stroke="#3a3a3a" stroke-width="1"/>
<text transform="matrix(0.9 0 0 1 842.9 98.97)" font-size="8.47" fill="#1e1e1e" stroke="#1e1e1e" stroke-width="0.22" text-anchor="middle" style="font-family:'Liberation Sans',sans-serif">R7</text>
<text transform="matrix(0.9 0 0 1 842.9 113.57)" font-size="8.47" fill="#1e1e1e" stroke="#1e1e1e" stroke-width="0.22" text-anchor="middle" style="font-family:'Liberation Sans',sans-serif">0</text>
<path d="M858.5 103.5 L1151.5 103.5 L1151.5 157.5 L1174.5 157.5" stroke="#222c6c" stroke-width="1" fill="none" stroke-linecap="square"/>
<path d="M1172.6 157.5 L1174.5 155.6 L1176.4 157.5 L1174.5 159.4 Z" fill="#0b1450" stroke="#0b1450" stroke-width="1.2" stroke-linejoin="round"/>
<path d="M772.5 119.5 L1148.5 119.5" stroke="#222c6c" stroke-width="1" fill="none" stroke-linecap="square"/>
<path d="M1147.9 119.5 L1148.9 119.1 Q1151.5 115.3 1154.1 119.1 L1155.1 119.5" stroke="#222c6c" stroke-width="1" fill="none"/>
<path d="M1154.5 119.5 L1300.5 119.5 L1300.5 167.5 L1320.5 167.5" stroke="#222c6c" stroke-width="1" fill="none" stroke-linecap="square"/>
<text transform="matrix(0.9 0 0 1 785 118.97)" font-size="8.47" fill="#8c2f34" stroke="#8c2f34" stroke-width="0.22" text-anchor="start" style="font-family:'Liberation Sans',sans-serif">VOUT</text>
<text transform="matrix(0.9 0 0 1 1302.7 118.77)" font-size="8.47" fill="#8c2f34" stroke="#8c2f34" stroke-width="0.22" text-anchor="end" style="font-family:'Liberation Sans',sans-serif">VOUT</text>
<path d="M870.6 119.5 L872.5 117.6 L874.4 119.5 L872.5 121.4 Z" fill="#0b1450" stroke="#0b1450" stroke-width="1.2" stroke-linejoin="round"/>
<path d="M915.6 119.5 L917.5 117.6 L919.4 119.5 L917.5 121.4 Z" fill="#0b1450" stroke="#0b1450" stroke-width="1.2" stroke-linejoin="round"/>
<path d="M965.6 119.5 L967.5 117.6 L969.4 119.5 L967.5 121.4 Z" fill="#0b1450" stroke="#0b1450" stroke-width="1.2" stroke-linejoin="round"/>
<path d="M1011.6 119.5 L1013.5 117.6 L1015.4 119.5 L1013.5 121.4 Z" fill="#0b1450" stroke="#0b1450" stroke-width="1.2" stroke-linejoin="round"/>
<path d="M1061.6 119.5 L1063.5 117.6 L1065.4 119.5 L1063.5 121.4 Z" fill="#0b1450" stroke="#0b1450" stroke-width="1.2" stroke-linejoin="round"/>
<path d="M1111.6 119.5 L1113.5 117.6 L1115.4 119.5 L1113.5 121.4 Z" fill="#0b1450" stroke="#0b1450" stroke-width="1.2" stroke-linejoin="round"/>
<path d="M1172.6 119.5 L1174.5 117.6 L1176.4 119.5 L1174.5 121.4 Z" fill="#0b1450" stroke="#0b1450" stroke-width="1.2" stroke-linejoin="round"/>
<path d="M1245.6 119.5 L1247.5 117.6 L1249.4 119.5 L1247.5 121.4 Z" fill="#0b1450" stroke="#0b1450" stroke-width="1.2" stroke-linejoin="round"/>
<path d="M772.5 136.5 L842.5 136.5 L842.5 286.5" stroke="#222c6c" stroke-width="1" fill="none" stroke-linecap="square"/>
<path d="M806.6 136.5 L808.5 134.6 L810.4 136.5 L808.5 138.4 Z" fill="#0b1450" stroke="#0b1450" stroke-width="1.2" stroke-linejoin="round"/>
<text transform="matrix(0.9 0 0 1 785 135.97)" font-size="8.47" fill="#8c2f34" stroke="#8c2f34" stroke-width="0.22" text-anchor="start" style="font-family:'Liberation Sans',sans-serif">VADJ</text>
<path d="M808.5 145 L808.5 146.94 L810.7 147.97 L806.3 150.02 L810.7 152.07 L806.3 154.13 L810.7 156.18 L806.3 158.23 L808.5 159.26 L808.5 161.2" stroke="#3f63c4" stroke-width="0.9" fill="none"/>
<line x1="808.5" y1="137.6" x2="808.5" y2="145" stroke="#3a3a3a" stroke-width="1"/>
<line x1="808.5" y1="161.2" x2="808.5" y2="167.2" stroke="#3a3a3a" stroke-width="1"/>
<text transform="matrix(0.9 0 0 1 810.1 151.57)" font-size="8.47" fill="#1e1e1e" stroke="#1e1e1e" stroke-width="0.22" text-anchor="start" style="font-family:'Liberation Sans',sans-serif">R1</text>
<text transform="matrix(0.9 0 0 1 810.1 160.07)" font-size="8.47" fill="#1e1e1e" stroke="#1e1e1e" stroke-width="0.22" text-anchor="start" style="font-family:'Liberation Sans',sans-serif">732</text>
<path d="M772.5 169.5 L808.5 169.5" stroke="#222c6c" stroke-width="1" fill="none" stroke-linecap="square"/>
<path d="M806.6 169.5 L808.5 167.6 L810.4 169.5 L808.5 171.4 Z" fill="#0b1450" stroke="#0b1450" stroke-width="1.2" stroke-linejoin="round"/>
<path d="M808.5 169.5 L808.5 178.5" stroke="#222c6c" stroke-width="1" fill="none" stroke-linecap="square"/>
<line x1="808.5" y1="178" x2="808.5" y2="186.4" stroke="#8a3434" stroke-width="1"/>
<path d="M799.5 186.4 L816.5 186.4 L808 194.6 Z" stroke="#8a3434" stroke-width="1" fill="none"/>
<text transform="matrix(0.9 0 0 1 808 202.27)" font-size="8.47" fill="#8a3434" stroke="#8a3434" stroke-width="0.22" text-anchor="middle" style="font-family:'Liberation Sans',sans-serif">AGND</text>
<path d="M780.5 252.5 L808.5 252.5" stroke="#222c6c" stroke-width="1" fill="none" stroke-linecap="square"/>
<path d="M806.6 252.5 L808.5 250.6 L810.4 252.5 L808.5 254.4 Z" fill="#0b1450" stroke="#0b1450" stroke-width="1.2" stroke-linejoin="round"/>
<path d="M808.5 228.5 L808.5 266.5" stroke="#222c6c" stroke-width="1" fill="none" stroke-linecap="square"/>
<line x1="808.5" y1="266" x2="808.5" y2="277" stroke="#8a3434" stroke-width="1"/>
<line x1="800" y1="277.5" x2="816" y2="277.5" stroke="#8a3434" stroke-width="1.1"/>
<line x1="802" y1="279.5" x2="814" y2="279.5" stroke="#8a3434" stroke-width="1"/>
<line x1="804.5" y1="282.5" x2="811.5" y2="282.5" stroke="#8a3434" stroke-width="1"/>
<line x1="807.4" y1="284.5" x2="808.6" y2="284.5" stroke="#8a3434" stroke-width="1"/>
<text transform="matrix(0.9 0 0 1 808 292.97)" font-size="8.47" fill="#8a3434" stroke="#8a3434" stroke-width="0.22" text-anchor="middle" style="font-family:'Liberation Sans',sans-serif">PGND</text>
<path d="M808.5 252.5 L808.5 227.5 L838.5 227.5" stroke="#222c6c" stroke-width="1" fill="none" stroke-linecap="square"/>
<path d="M838.4 227.8 L839.4 227.4 Q842 223.6 844.6 227.4 L845.6 227.8" stroke="#222c6c" stroke-width="1" fill="none"/>
<path d="M845.5 227.5 L1300.5 227.5 L1300.5 175.5 L1320.5 175.5" stroke="#222c6c" stroke-width="1" fill="none" stroke-linecap="square"/>
<path d="M870.6 227.5 L872.5 225.6 L874.4 227.5 L872.5 229.4 Z" fill="#0b1450" stroke="#0b1450" stroke-width="1.2" stroke-linejoin="round"/>
<path d="M915.6 227.5 L917.5 225.6 L919.4 227.5 L917.5 229.4 Z" fill="#0b1450" stroke="#0b1450" stroke-width="1.2" stroke-linejoin="round"/>
<path d="M965.6 227.5 L967.5 225.6 L969.4 227.5 L967.5 229.4 Z" fill="#0b1450" stroke="#0b1450" stroke-width="1.2" stroke-linejoin="round"/>
<path d="M1011.6 227.5 L1013.5 225.6 L1015.4 227.5 L1013.5 229.4 Z" fill="#0b1450" stroke="#0b1450" stroke-width="1.2" stroke-linejoin="round"/>
<path d="M1061.6 227.5 L1063.5 225.6 L1065.4 227.5 L1063.5 229.4 Z" fill="#0b1450" stroke="#0b1450" stroke-width="1.2" stroke-linejoin="round"/>
<path d="M1111.6 227.5 L1113.5 225.6 L1115.4 227.5 L1113.5 229.4 Z" fill="#0b1450" stroke="#0b1450" stroke-width="1.2" stroke-linejoin="round"/>
<path d="M1172.6 227.5 L1174.5 225.6 L1176.4 227.5 L1174.5 229.4 Z" fill="#0b1450" stroke="#0b1450" stroke-width="1.2" stroke-linejoin="round"/>
<path d="M1245.6 227.5 L1247.5 225.6 L1249.4 227.5 L1247.5 229.4 Z" fill="#0b1450" stroke="#0b1450" stroke-width="1.2" stroke-linejoin="round"/>
<path d="M1298.6 227.5 L1300.5 225.6 L1302.4 227.5 L1300.5 229.4 Z" fill="#0b1450" stroke="#0b1450" stroke-width="1.2" stroke-linejoin="round"/>
<path d="M1300.5 227.5 L1300.5 236.5" stroke="#222c6c" stroke-width="1" fill="none" stroke-linecap="square"/>
<circle cx="1300.3" cy="239.1" r="3.3" fill="#000"/>
<text transform="matrix(0.9 0 0 1 1300.3 252.17)" font-size="8.47" fill="#1e1e1e" stroke="#1e1e1e" stroke-width="0.22" text-anchor="middle" style="font-family:'Liberation Sans',sans-serif">TP4</text>
<path d="M872.5 119.5 L872.5 158.5" stroke="#222c6c" stroke-width="1" fill="none" stroke-linecap="square"/>
<path d="M872.5 180.5 L872.5 227.5" stroke="#222c6c" stroke-width="1" fill="none" stroke-linecap="square"/>
<line x1="872.5" y1="158.7" x2="872.5" y2="167.7" stroke="#3a3a3a" stroke-width="1"/>
<line x1="872.5" y1="171.3" x2="872.5" y2="180.3" stroke="#3a3a3a" stroke-width="1"/>
<line x1="865.4" y1="167.5" x2="878.6" y2="167.5" stroke="#3f63c4" stroke-width="1.4"/>
<line x1="865.4" y1="171.5" x2="878.6" y2="171.5" stroke="#3f63c4" stroke-width="1.4"/>
<text transform="matrix(0.9 0 0 1 879.5 172.47)" font-size="8.47" fill="#1e1e1e" stroke="#1e1e1e" stroke-width="0.22" text-anchor="start" style="font-family:'Liberation Sans',sans-serif">C2</text>
<path d="M917.5 119.5 L917.5 158.5" stroke="#222c6c" stroke-width="1" fill="none" stroke-linecap="square"/>
<path d="M917.5 180.5 L917.5 227.5" stroke="#222c6c" stroke-width="1" fill="none" stroke-linecap="square"/>
<line x1="917.5" y1="158.7" x2="917.5" y2="167.7" stroke="#3a3a3a" stroke-width="1"/>
<line x1="917.5" y1="171.3" x2="917.5" y2="180.3" stroke="#3a3a3a" stroke-width="1"/>
<line x1="910.9" y1="167.5" x2="924.1" y2="167.5" stroke="#3f63c4" stroke-width="1.4"/>
<line x1="910.9" y1="171.5" x2="924.1" y2="171.5" stroke="#3f63c4" stroke-width="1.4"/>
<text transform="matrix(0.9 0 0 1 925 172.47)" font-size="8.47" fill="#1e1e1e" stroke="#1e1e1e" stroke-width="0.22" text-anchor="start" style="font-family:'Liberation Sans',sans-serif">C4</text>
<path d="M967.5 119.5 L967.5 158.5" stroke="#222c6c" stroke-width="1" fill="none" stroke-linecap="square"/>
<path d="M967.5 180.5 L967.5 227.5" stroke="#222c6c" stroke-width="1" fill="none" stroke-linecap="square"/>
<line x1="967.5" y1="158.7" x2="967.5" y2="167.7" stroke="#3a3a3a" stroke-width="1"/>
<line x1="967.5" y1="171.3" x2="967.5" y2="180.3" stroke="#3a3a3a" stroke-width="1"/>
<line x1="960.8" y1="167.5" x2="974" y2="167.5" stroke="#3f63c4" stroke-width="1.4"/>
<line x1="960.8" y1="171.5" x2="974" y2="171.5" stroke="#3f63c4" stroke-width="1.4"/>
<text transform="matrix(0.9 0 0 1 974.9 172.47)" font-size="8.47" fill="#1e1e1e" stroke="#1e1e1e" stroke-width="0.22" text-anchor="start" style="font-family:'Liberation Sans',sans-serif">C6</text>
<path d="M1013.5 119.5 L1013.5 158.5" stroke="#222c6c" stroke-width="1" fill="none" stroke-linecap="square"/>
<path d="M1013.5 180.5 L1013.5 227.5" stroke="#222c6c" stroke-width="1" fill="none" stroke-linecap="square"/>
<line x1="1013.5" y1="158.7" x2="1013.5" y2="167.7" stroke="#3a3a3a" stroke-width="1"/>
<line x1="1013.5" y1="171.3" x2="1013.5" y2="180.3" stroke="#3a3a3a" stroke-width="1"/>
<line x1="1006.6" y1="167.5" x2="1019.8" y2="167.5" stroke="#3f63c4" stroke-width="1.4"/>
<line x1="1006.6" y1="171.5" x2="1019.8" y2="171.5" stroke="#3f63c4" stroke-width="1.4"/>
<text transform="matrix(0.9 0 0 1 1020.7 172.47)" font-size="8.47" fill="#1e1e1e" stroke="#1e1e1e" stroke-width="0.22" text-anchor="start" style="font-family:'Liberation Sans',sans-serif">C8</text>
<path d="M1063.5 119.5 L1063.5 158.5" stroke="#222c6c" stroke-width="1" fill="none" stroke-linecap="square"/>
<path d="M1063.5 180.5 L1063.5 227.5" stroke="#222c6c" stroke-width="1" fill="none" stroke-linecap="square"/>
<line x1="1063.5" y1="158.7" x2="1063.5" y2="167.7" stroke="#3a3a3a" stroke-width="1"/>
<line x1="1063.5" y1="171.3" x2="1063.5" y2="180.3" stroke="#3a3a3a" stroke-width="1"/>
<line x1="1056.4" y1="167.5" x2="1069.6" y2="167.5" stroke="#3f63c4" stroke-width="1.4"/>
<line x1="1056.4" y1="171.5" x2="1069.6" y2="171.5" stroke="#3f63c4" stroke-width="1.4"/>
<text transform="matrix(0.9 0 0 1 1070.5 172.47)" font-size="8.47" fill="#1e1e1e" stroke="#1e1e1e" stroke-width="0.22" text-anchor="start" style="font-family:'Liberation Sans',sans-serif">C10</text>
<path d="M1113.5 119.5 L1113.5 158.5" stroke="#222c6c" stroke-width="1" fill="none" stroke-linecap="square"/>
<path d="M1113.5 180.5 L1113.5 227.5" stroke="#222c6c" stroke-width="1" fill="none" stroke-linecap="square"/>
<line x1="1113.5" y1="158.7" x2="1113.5" y2="167.7" stroke="#3a3a3a" stroke-width="1"/>
<line x1="1113.5" y1="171.3" x2="1113.5" y2="180.3" stroke="#3a3a3a" stroke-width="1"/>
<line x1="1106.4" y1="167.5" x2="1119.6" y2="167.5" stroke="#3f63c4" stroke-width="1.4"/>
<line x1="1106.4" y1="171.5" x2="1119.6" y2="171.5" stroke="#3f63c4" stroke-width="1.4"/>
<text transform="matrix(0.9 0 0 1 1120.5 172.47)" font-size="8.47" fill="#1e1e1e" stroke="#1e1e1e" stroke-width="0.22" text-anchor="start" style="font-family:'Liberation Sans',sans-serif">C12</text>
<path d="M1174.5 119.5 L1174.5 171.5 L1190.5 171.5" stroke="#222c6c" stroke-width="1" fill="none" stroke-linecap="square"/>
<path d="M1174.5 227.5 L1174.5 179.5 L1190.5 179.5" stroke="#222c6c" stroke-width="1" fill="none" stroke-linecap="square"/>
<line x1="1190" y1="171.5" x2="1202" y2="171.5" stroke="#3a3a3a" stroke-width="1"/>
<line x1="1190" y1="179.5" x2="1202" y2="179.5" stroke="#3a3a3a" stroke-width="1"/>
<rect x="1196.2" y="162.9" width="16.8" height="25.1" fill="none" stroke="#3f63c4" stroke-width="1"/>
<rect x="1202.2" y="168.7" width="5" height="5" fill="none" stroke="#3f63c4" stroke-width="1"/>
<circle cx="1204.7" cy="179.5" r="2.5" fill="none" stroke="#3f63c4" stroke-width="1"/>
<text transform="matrix(0.9 0 0 1 1199 162.57)" font-size="8.47" fill="#1e1e1e" stroke="#1e1e1e" stroke-width="0.22" text-anchor="middle" style="font-family:'Liberation Sans',sans-serif">J2</text>
<text transform="matrix(0.9 0 0 1 1216 170.88)" font-size="6.21" fill="#1e1e1e" stroke="#1e1e1e" stroke-width="0.22" text-anchor="start" style="font-family:'Liberation Sans',sans-serif">VOUT</text>
<text transform="matrix(0.9 0 0 1 1216.8 186.48)" font-size="6.21" fill="#1e1e1e" stroke="#1e1e1e" stroke-width="0.22" text-anchor="start" style="font-family:'Liberation Sans',sans-serif">PGND</text>
<path d="M1247.5 119.5 L1247.5 161.5" stroke="#222c6c" stroke-width="1" fill="none" stroke-linecap="square"/>
<path d="M1247.5 183.5 L1247.5 227.5" stroke="#222c6c" stroke-width="1" fill="none" stroke-linecap="square"/>
<line x1="1247.5" y1="161.4" x2="1247.5" y2="170.4" stroke="#3a3a3a" stroke-width="1"/>
<line x1="1247.5" y1="174.4" x2="1247.5" y2="183.4" stroke="#3a3a3a" stroke-width="1"/>
<line x1="1240.5" y1="170.5" x2="1253.5" y2="170.5" stroke="#3f63c4" stroke-width="1.2"/>
<path d="M1240.5 175.4 Q1247 172 1253.5 175.4" stroke="#3f63c4" stroke-width="1.1" fill="none"/>
<line x1="1249.6" y1="166.5" x2="1253" y2="166.5" stroke="#3f63c4" stroke-width="0.9"/>
<line x1="1251.5" y1="164.8" x2="1251.5" y2="168.2" stroke="#3f63c4" stroke-width="0.9"/>
<text transform="matrix(0.9 0 0 1 1254.2 171.37)" font-size="8.47" fill="#1e1e1e" stroke="#1e1e1e" stroke-width="0.22" text-anchor="start" style="font-family:'Liberation Sans',sans-serif">C14</text>
<line x1="1320" y1="167.5" x2="1330.5" y2="167.5" stroke="#3a3a3a" stroke-width="1"/>
<line x1="1320" y1="175.5" x2="1330.5" y2="175.5" stroke="#3a3a3a" stroke-width="1"/>
<rect x="1325.2" y="158.4" width="16.6" height="25.1" fill="none" stroke="#3f63c4" stroke-width="1"/>
<circle cx="1333.3" cy="167.4" r="2.5" fill="none" stroke="#3f63c4" stroke-width="1"/>
<rect x="1330.8" y="173" width="5" height="5" fill="none" stroke="#3f63c4" stroke-width="1"/>
<text transform="matrix(0.9 0 0 1 1331.5 157.57)" font-size="8.47" fill="#1e1e1e" stroke="#1e1e1e" stroke-width="0.22" text-anchor="middle" style="font-family:'Liberation Sans',sans-serif">TB2</text>
<text transform="matrix(0.9 0 0 1 1342.6 169.34)" font-size="10.12" fill="#111" stroke="#111" stroke-width="0.22" text-anchor="start" style="font-family:'Liberation Serif',serif">VOUT</text>
<text transform="matrix(0.9 0 0 1 1342.6 180.04)" font-size="10.12" fill="#111" stroke="#111" stroke-width="0.22" text-anchor="start" style="font-family:'Liberation Serif',serif">PGND</text>
<path d="M842.5 269.5 L1108.5 269.5" stroke="#222c6c" stroke-width="1" fill="none" stroke-linecap="square"/>
<text transform="matrix(0.9 0 0 1 847 268.97)" font-size="8.47" fill="#8c2f34" stroke="#8c2f34" stroke-width="0.22" text-anchor="start" style="font-family:'Liberation Sans',sans-serif">VADJ</text>
<path d="M842.5 269.5 L842.5 286.5" stroke="#222c6c" stroke-width="1" fill="none" stroke-linecap="square"/>
<path d="M842.5 294.3 L842.5 296.27 L844.7 297.31 L840.3 299.38 L844.7 301.46 L840.3 303.54 L844.7 305.62 L840.3 307.69 L842.5 308.73 L842.5 310.7" stroke="#3f63c4" stroke-width="0.9" fill="none"/>
<line x1="842.5" y1="286" x2="842.5" y2="294.3" stroke="#3a3a3a" stroke-width="1"/>
<line x1="842.5" y1="310.7" x2="842.5" y2="319" stroke="#3a3a3a" stroke-width="1"/>
<text transform="matrix(0.9 0 0 1 844.1 301.47)" font-size="8.47" fill="#1e1e1e" stroke="#1e1e1e" stroke-width="0.22" text-anchor="start" style="font-family:'Liberation Sans',sans-serif">R2</text>
<text transform="matrix(0.9 0 0 1 844.1 309.57)" font-size="8.47" fill="#1e1e1e" stroke="#1e1e1e" stroke-width="0.22" text-anchor="start" style="font-family:'Liberation Sans',sans-serif">5.49k</text>
<path d="M842.5 319.5 L842.5 382.5 L1129.5 382.5" stroke="#222c6c" stroke-width="1" fill="none" stroke-linecap="square"/>
<path d="M908.5 269.5 L908.5 286.5" stroke="#222c6c" stroke-width="1" fill="none" stroke-linecap="square"/>
<path d="M908.5 294.3 L908.5 296.27 L910.7 297.31 L906.3 299.38 L910.7 301.46 L906.3 303.54 L910.7 305.62 L906.3 307.69 L908.5 308.73 L908.5 310.7" stroke="#3f63c4" stroke-width="0.9" fill="none"/>
<line x1="908.5" y1="286" x2="908.5" y2="294.3" stroke="#3a3a3a" stroke-width="1"/>
<line x1="908.5" y1="310.7" x2="908.5" y2="319" stroke="#3a3a3a" stroke-width="1"/>
<text transform="matrix(0.9 0 0 1 910.5 301.47)" font-size="8.47" fill="#1e1e1e" stroke="#1e1e1e" stroke-width="0.22" text-anchor="start" style="font-family:'Liberation Sans',sans-serif">R3</text>
<text transform="matrix(0.9 0 0 1 910.5 309.57)" font-size="8.47" fill="#1e1e1e" stroke="#1e1e1e" stroke-width="0.22" text-anchor="start" style="font-family:'Liberation Sans',sans-serif">1.74k</text>
<path d="M908.5 319.5 L908.5 374.5 L1129.5 374.5" stroke="#222c6c" stroke-width="1" fill="none" stroke-linecap="square"/>
<path d="M975.5 269.5 L975.5 286.5" stroke="#222c6c" stroke-width="1" fill="none" stroke-linecap="square"/>
<path d="M975.5 294.3 L975.5 296.27 L977.7 297.31 L973.3 299.38 L977.7 301.46 L973.3 303.54 L977.7 305.62 L973.3 307.69 L975.5 308.73 L975.5 310.7" stroke="#3f63c4" stroke-width="0.9" fill="none"/>
<line x1="975.5" y1="286" x2="975.5" y2="294.3" stroke="#3a3a3a" stroke-width="1"/>
<line x1="975.5" y1="310.7" x2="975.5" y2="319" stroke="#3a3a3a" stroke-width="1"/>
<text transform="matrix(0.9 0 0 1 977.1 301.47)" font-size="8.47" fill="#1e1e1e" stroke="#1e1e1e" stroke-width="0.22" text-anchor="start" style="font-family:'Liberation Sans',sans-serif">R4</text>
<text transform="matrix(0.9 0 0 1 977.1 309.57)" font-size="8.47" fill="#1e1e1e" stroke="#1e1e1e" stroke-width="0.22" text-anchor="start" style="font-family:'Liberation Sans',sans-serif">1.02k</text>
<path d="M975.5 319.5 L975.5 365.5 L1129.5 365.5" stroke="#222c6c" stroke-width="1" fill="none" stroke-linecap="square"/>
<path d="M1041.5 269.5 L1041.5 286.5" stroke="#222c6c" stroke-width="1" fill="none" stroke-linecap="square"/>
<path d="M1041.5 294.3 L1041.5 296.27 L1043.7 297.31 L1039.3 299.38 L1043.7 301.46 L1039.3 303.54 L1043.7 305.62 L1039.3 307.69 L1041.5 308.73 L1041.5 310.7" stroke="#3f63c4" stroke-width="0.9" fill="none"/>
<line x1="1041.5" y1="286" x2="1041.5" y2="294.3" stroke="#3a3a3a" stroke-width="1"/>
<line x1="1041.5" y1="310.7" x2="1041.5" y2="319" stroke="#3a3a3a" stroke-width="1"/>
<text transform="matrix(0.9 0 0 1 1043.6 301.47)" font-size="8.47" fill="#1e1e1e" stroke="#1e1e1e" stroke-width="0.22" text-anchor="start" style="font-family:'Liberation Sans',sans-serif">R5</text>
<text transform="matrix(0.9 0 0 1 1043.6 309.57)" font-size="8.47" fill="#1e1e1e" stroke="#1e1e1e" stroke-width="0.22" text-anchor="start" style="font-family:'Liberation Sans',sans-serif">866</text>
<path d="M1041.5 319.5 L1041.5 357.5 L1129.5 357.5" stroke="#222c6c" stroke-width="1" fill="none" stroke-linecap="square"/>
<path d="M1108.5 269.5 L1108.5 286.5" stroke="#222c6c" stroke-width="1" fill="none" stroke-linecap="square"/>
<path d="M1108.5 294.3 L1108.5 296.27 L1110.7 297.31 L1106.3 299.38 L1110.7 301.46 L1106.3 303.54 L1110.7 305.62 L1106.3 307.69 L1108.5 308.73 L1108.5 310.7" stroke="#3f63c4" stroke-width="0.9" fill="none"/>
<line x1="1108.5" y1="286" x2="1108.5" y2="294.3" stroke="#3a3a3a" stroke-width="1"/>
<line x1="1108.5" y1="310.7" x2="1108.5" y2="319" stroke="#3a3a3a" stroke-width="1"/>
<text transform="matrix(0.9 0 0 1 1110.6 301.47)" font-size="8.47" fill="#1e1e1e" stroke="#1e1e1e" stroke-width="0.22" text-anchor="start" style="font-family:'Liberation Sans',sans-serif">R6</text>
<text transform="matrix(0.9 0 0 1 1110.6 309.57)" font-size="8.47" fill="#1e1e1e" stroke="#1e1e1e" stroke-width="0.22" text-anchor="start" style="font-family:'Liberation Sans',sans-serif">732</text>
<path d="M1108.5 319.5 L1108.5 349.5 L1129.5 349.5" stroke="#222c6c" stroke-width="1" fill="none" stroke-linecap="square"/>
<path d="M840.6 269.5 L842.5 267.6 L844.4 269.5 L842.5 271.4 Z" fill="#0b1450" stroke="#0b1450" stroke-width="1.2" stroke-linejoin="round"/>
<path d="M906.6 269.5 L908.5 267.6 L910.4 269.5 L908.5 271.4 Z" fill="#0b1450" stroke="#0b1450" stroke-width="1.2" stroke-linejoin="round"/>
<path d="M973.6 269.5 L975.5 267.6 L977.4 269.5 L975.5 271.4 Z" fill="#0b1450" stroke="#0b1450" stroke-width="1.2" stroke-linejoin="round"/>
<path d="M1039.6 269.5 L1041.5 267.6 L1043.4 269.5 L1041.5 271.4 Z" fill="#0b1450" stroke="#0b1450" stroke-width="1.2" stroke-linejoin="round"/>
<line x1="1129" y1="349.5" x2="1145.5" y2="349.5" stroke="#3a3a3a" stroke-width="1"/>
<line x1="1178.7" y1="349.5" x2="1194.8" y2="349.5" stroke="#3a3a3a" stroke-width="1"/>
<text transform="matrix(0.9 0 0 1 1137 348.77)" font-size="8.47" fill="#1e1e1e" stroke="#1e1e1e" stroke-width="0.22" text-anchor="middle" style="font-family:'Liberation Sans',sans-serif">1</text>
<text transform="matrix(0.9 0 0 1 1185 348.77)" font-size="8.47" fill="#1e1e1e" stroke="#1e1e1e" stroke-width="0.22" text-anchor="start" style="font-family:'Liberation Sans',sans-serif">2</text>
<path d="M1194.5 349.5 L1212.5 349.5" stroke="#222c6c" stroke-width="1" fill="none" stroke-linecap="square"/>
<rect x="1151" y="346.3" width="5.6" height="5.6" fill="#3f63c4"/>
<circle cx="1170.4" cy="349.1" r="2.8" fill="#3f63c4"/>
<line x1="1129" y1="357.5" x2="1145.5" y2="357.5" stroke="#3a3a3a" stroke-width="1"/>
<line x1="1178.7" y1="357.5" x2="1194.8" y2="357.5" stroke="#3a3a3a" stroke-width="1"/>
<text transform="matrix(0.9 0 0 1 1137 356.97)" font-size="8.47" fill="#1e1e1e" stroke="#1e1e1e" stroke-width="0.22" text-anchor="middle" style="font-family:'Liberation Sans',sans-serif">3</text>
<text transform="matrix(0.9 0 0 1 1185 356.97)" font-size="8.47" fill="#1e1e1e" stroke="#1e1e1e" stroke-width="0.22" text-anchor="start" style="font-family:'Liberation Sans',sans-serif">4</text>
<path d="M1194.5 357.5 L1212.5 357.5" stroke="#222c6c" stroke-width="1" fill="none" stroke-linecap="square"/>
<circle cx="1153.8" cy="357.3" r="2.8" fill="#3f63c4"/>
<circle cx="1170.4" cy="357.3" r="2.8" fill="#3f63c4"/>
<path d="M1210.6 357.5 L1212.5 355.6 L1214.4 357.5 L1212.5 359.4 Z" fill="#0b1450" stroke="#0b1450" stroke-width="1.2" stroke-linejoin="round"/>
<line x1="1129" y1="365.5" x2="1145.5" y2="365.5" stroke="#3a3a3a" stroke-width="1"/>
<line x1="1178.7" y1="365.5" x2="1194.8" y2="365.5" stroke="#3a3a3a" stroke-width="1"/>
<text transform="matrix(0.9 0 0 1 1137 365.47)" font-size="8.47" fill="#1e1e1e" stroke="#1e1e1e" stroke-width="0.22" text-anchor="middle" style="font-family:'Liberation Sans',sans-serif">5</text>
<text transform="matrix(0.9 0 0 1 1185 365.47)" font-size="8.47" fill="#1e1e1e" stroke="#1e1e1e" stroke-width="0.22" text-anchor="start" style="font-family:'Liberation Sans',sans-serif">6</text>
<path d="M1194.5 365.5 L1212.5 365.5" stroke="#222c6c" stroke-width="1" fill="none" stroke-linecap="square"/>
<circle cx="1153.8" cy="365.8" r="2.8" fill="#3f63c4"/>
<circle cx="1170.4" cy="365.8" r="2.8" fill="#3f63c4"/>
<path d="M1210.6 365.5 L1212.5 363.6 L1214.4 365.5 L1212.5 367.4 Z" fill="#0b1450" stroke="#0b1450" stroke-width="1.2" stroke-linejoin="round"/>
<line x1="1129" y1="373.5" x2="1145.5" y2="373.5" stroke="#3a3a3a" stroke-width="1"/>
<line x1="1178.7" y1="373.5" x2="1194.8" y2="373.5" stroke="#3a3a3a" stroke-width="1"/>
<text transform="matrix(0.9 0 0 1 1137 373.57)" font-size="8.47" fill="#1e1e1e" stroke="#1e1e1e" stroke-width="0.22" text-anchor="middle" style="font-family:'Liberation Sans',sans-serif">7</text>
<text transform="matrix(0.9 0 0 1 1185 373.57)" font-size="8.47" fill="#1e1e1e" stroke="#1e1e1e" stroke-width="0.22" text-anchor="start" style="font-family:'Liberation Sans',sans-serif">8</text>
<path d="M1194.5 373.5 L1212.5 373.5" stroke="#222c6c" stroke-width="1" fill="none" stroke-linecap="square"/>
<circle cx="1153.8" cy="373.9" r="2.8" fill="#3f63c4"/>
<circle cx="1170.4" cy="373.9" r="2.8" fill="#3f63c4"/>
<path d="M1210.6 373.5 L1212.5 371.6 L1214.4 373.5 L1212.5 375.4 Z" fill="#0b1450" stroke="#0b1450" stroke-width="1.2" stroke-linejoin="round"/>
<line x1="1129" y1="382.5" x2="1145.5" y2="382.5" stroke="#3a3a3a" stroke-width="1"/>
<line x1="1178.7" y1="382.5" x2="1194.8" y2="382.5" stroke="#3a3a3a" stroke-width="1"/>
<text transform="matrix(0.9 0 0 1 1137 381.87)" font-size="8.47" fill="#1e1e1e" stroke="#1e1e1e" stroke-width="0.22" text-anchor="middle" style="font-family:'Liberation Sans',sans-serif">9</text>
<text transform="matrix(0.9 0 0 1 1185 381.87)" font-size="8.47" fill="#1e1e1e" stroke="#1e1e1e" stroke-width="0.22" text-anchor="start" style="font-family:'Liberation Sans',sans-serif">10</text>
<path d="M1194.5 382.5 L1212.5 382.5" stroke="#222c6c" stroke-width="1" fill="none" stroke-linecap="square"/>
<circle cx="1153.8" cy="382.2" r="2.8" fill="#3f63c4"/>
<circle cx="1170.4" cy="382.2" r="2.8" fill="#3f63c4"/>
<path d="M1210.6 382.5 L1212.5 380.6 L1214.4 382.5 L1212.5 384.4 Z" fill="#0b1450" stroke="#0b1450" stroke-width="1.2" stroke-linejoin="round"/>
<rect x="1145.5" y="341" width="33.2" height="49.5" fill="none" stroke="#3f63c4" stroke-width="1"/>
<text transform="matrix(0.9 0 0 1 1144.5 340.27)" font-size="8.47" fill="#1e1e1e" stroke="#1e1e1e" stroke-width="0.22" text-anchor="start" style="font-family:'Liberation Sans',sans-serif">P1</text>
<text transform="matrix(0.9 0 0 1 1161.7 323.04)" font-size="10.12" fill="#111" stroke="#111" stroke-width="0.22" text-anchor="middle" style="font-family:'Liberation Serif',serif">VOUT</text>
<text transform="matrix(0.9 0 0 1 1161.7 330.84)" font-size="10.12" fill="#111" stroke="#111" stroke-width="0.22" text-anchor="middle" style="font-family:'Liberation Serif',serif">SELECT</text>
<path d="M1212.5 349.5 L1212.5 407.5" stroke="#222c6c" stroke-width="1" fill="none" stroke-linecap="square"/>
<line x1="1212.5" y1="407" x2="1212.5" y2="415.5" stroke="#8a3434" stroke-width="1"/>
<path d="M1203.9 415.5 L1220.9 415.5 L1212.4 423.7 Z" stroke="#8a3434" stroke-width="1" fill="none"/>
<text transform="matrix(0.9 0 0 1 1212.4 431.77)" font-size="8.47" fill="#8a3434" stroke="#8a3434" stroke-width="0.22" text-anchor="middle" style="font-family:'Liberation Sans',sans-serif">AGND</text>
</svg>
</body></html>
